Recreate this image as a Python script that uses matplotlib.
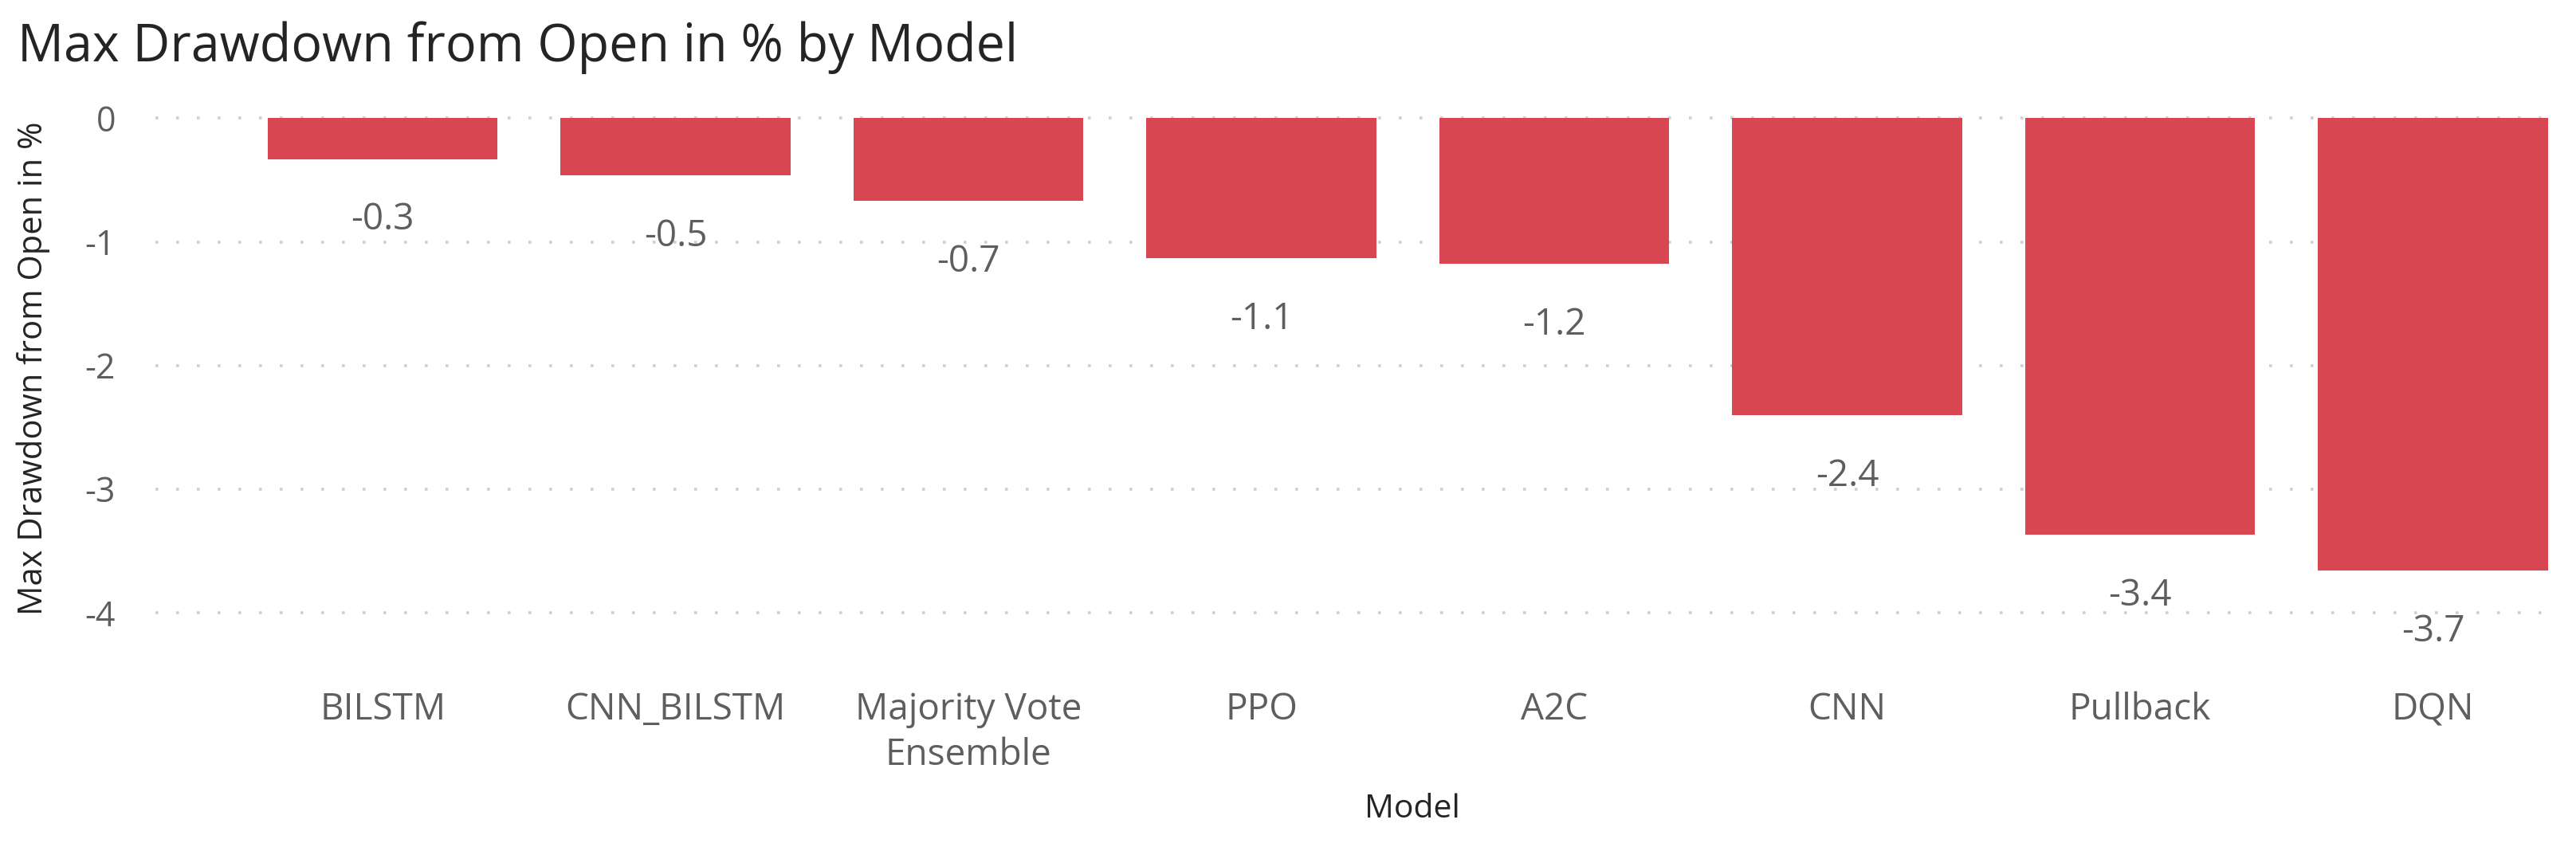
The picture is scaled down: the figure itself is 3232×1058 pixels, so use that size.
import matplotlib
matplotlib.use("Agg")
import matplotlib.pyplot as plt
import numpy as np

# ---- data ----
models = ["BILSTM", "CNN_BILSTM", "Majority Vote\nEnsemble", "PPO", "A2C", "CNN", "Pullback", "DQN"]
max_drawdown = [-0.33, -0.46, -0.67, -1.13, -1.18, -2.40, -3.37, -3.66]
y_ticks = [0, -1, -2, -3, -4]
title_text = "Max Drawdown from Open in % by Model"
y_label = "Max Drawdown from Open in %"
x_label = "Model"

FONT = ["Open Sans", "DejaVu Sans"]
plt.rcParams["font.family"] = FONT

W, H, DPI = 3232, 1058, 100
fig = plt.figure(figsize=(W / DPI, H / DPI), dpi=DPI)
fig.patch.set_facecolor("white")

# axes placement (pixels from the reference)
left_px, right_px = 195, 3205
top_px, bot_px = 132.9, 830.9
ax = fig.add_axes([left_px / W, 1 - bot_px / H, (right_px - left_px) / W, (bot_px - top_px) / H])

bar_color = "#D84652"
x = np.arange(len(models))
bars = ax.bar(x, max_drawdown, width=0.785, color=bar_color, zorder=3, linewidth=0)

ax.set_xlim(-0.776, len(models) - 1 + 0.415)
ax.set_ylim(-4.4, 0.1)

ax.set_yticks(y_ticks)
ax.set_yticklabels([str(t) if t == 0 else "-" + str(abs(t)) for t in y_ticks])
ax.yaxis.grid(True, color="#CFCFCF", linewidth=2.6, linestyle=(0, (1, 6.2)), zorder=0)
ax.xaxis.grid(False)

for s in ax.spines.values():
    s.set_visible(False)

ax.set_xticks(x)
ax.set_xticklabels(models, linespacing=1.3)
ax.tick_params(axis="x", length=0, pad=27, labelsize=33, labelcolor="#605E5C")
ax.tick_params(axis="y", length=0, pad=36, labelsize=31, labelcolor="#605E5C")

# data labels
for xi, v in zip(x, max_drawdown):
    ax.annotate(f"{v:.1f}", xy=(xi, v), xytext=(0, -64), textcoords="offset points",
                ha="center", va="baseline", fontsize=33, color="#605E5C")

# titles
fig.text(22 / W, 1 - 77 / H, title_text, ha="left", va="baseline", fontsize=46.5, color="#252423")
fig.text(42 / W, 1 - ((148.4 + 768.8) / 2 + 4) / H, y_label, rotation=90, ha="center", va="center",
         fontsize=30, color="#252423")
fig.text(1772 / W, 1 - 996 / H, x_label, ha="center", va="top", fontsize=29.5, color="#252423")

fig.savefig("out.png", dpi=DPI, facecolor="white")
